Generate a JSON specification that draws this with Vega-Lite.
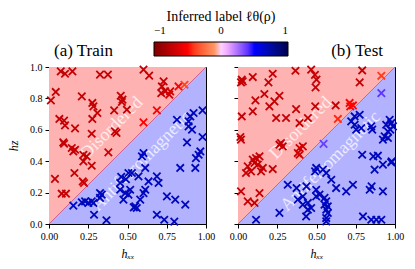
{
  "$schema": "https://vega.github.io/schema/vega-lite/v6.json",
  "padding": {"left": 7, "top": 10, "right": 5, "bottom": 5},
  "background": "white",
  "datasets": {
    "regions": [
      {"x": 0, "diag": 0, "lo": 0, "hi": 1},
      {"x": 1, "diag": 1, "lo": 0, "hi": 1}
    ],
    "labels": [
      {"x": 0.40, "y": 0.61, "t": "Disordered"},
      {"x": 0.59, "y": 0.40, "t": "Antiferromagnetic"}
    ],
    "train": [
      {"hxx": 0.075, "hz": 0.972, "label": -0.72},
      {"hxx": 0.102, "hz": 0.957, "label": -0.72},
      {"hxx": 0.149, "hz": 0.972, "label": -0.72},
      {"hxx": 0.325, "hz": 0.951, "label": -0.72},
      {"hxx": 0.375, "hz": 0.951, "label": -0.72},
      {"hxx": 0.043, "hz": 0.841, "label": -0.72},
      {"hxx": 0.012, "hz": 0.787, "label": -0.72},
      {"hxx": 0.209, "hz": 0.813, "label": -0.72},
      {"hxx": 0.276, "hz": 0.771, "label": -0.72},
      {"hxx": 0.283, "hz": 0.749, "label": -0.72},
      {"hxx": 0.308, "hz": 0.707, "label": -0.72},
      {"hxx": 0.276, "hz": 0.669, "label": -0.72},
      {"hxx": 0.457, "hz": 0.817, "label": -0.72},
      {"hxx": 0.468, "hz": 0.792, "label": -0.72},
      {"hxx": 0.464, "hz": 0.777, "label": -0.72},
      {"hxx": 0.415, "hz": 0.724, "label": -0.72},
      {"hxx": 0.496, "hz": 0.728, "label": -0.72},
      {"hxx": 0.066, "hz": 0.669, "label": -0.72},
      {"hxx": 0.096, "hz": 0.658, "label": -0.72},
      {"hxx": 0.102, "hz": 0.628, "label": -0.72},
      {"hxx": 0.166, "hz": 0.609, "label": -0.72},
      {"hxx": 0.272, "hz": 0.575, "label": -0.72},
      {"hxx": 0.42, "hz": 0.59, "label": -0.72},
      {"hxx": 0.43, "hz": 0.58, "label": -0.72},
      {"hxx": 0.091, "hz": 0.52, "label": -0.72},
      {"hxx": 0.602, "hz": 0.983, "label": -0.72},
      {"hxx": 0.638, "hz": 0.945, "label": -0.72},
      {"hxx": 0.73, "hz": 0.908, "label": -0.72},
      {"hxx": 0.719, "hz": 0.876, "label": -0.72},
      {"hxx": 0.74, "hz": 0.845, "label": -0.72},
      {"hxx": 0.772, "hz": 0.845, "label": -0.68},
      {"hxx": 0.715, "hz": 0.834, "label": -0.72},
      {"hxx": 0.766, "hz": 0.824, "label": -0.68},
      {"hxx": 0.825, "hz": 0.876, "label": -0.5},
      {"hxx": 0.863, "hz": 0.887, "label": -0.38},
      {"hxx": 0.687, "hz": 0.724, "label": -0.5},
      {"hxx": 0.602, "hz": 0.647, "label": -0.5},
      {"hxx": 0.096, "hz": 0.511, "label": -0.72},
      {"hxx": 0.145, "hz": 0.484, "label": -0.72},
      {"hxx": 0.166, "hz": 0.473, "label": -0.72},
      {"hxx": 0.155, "hz": 0.462, "label": -0.72},
      {"hxx": 0.219, "hz": 0.441, "label": -0.72},
      {"hxx": 0.24, "hz": 0.431, "label": -0.72},
      {"hxx": 0.219, "hz": 0.399, "label": -0.72},
      {"hxx": 0.272, "hz": 0.371, "label": -0.72},
      {"hxx": 0.378, "hz": 0.456, "label": -0.68},
      {"hxx": 0.038, "hz": 0.287, "label": -0.72},
      {"hxx": 0.162, "hz": 0.325, "label": -0.72},
      {"hxx": 0.215, "hz": 0.271, "label": -0.7},
      {"hxx": 0.223, "hz": 0.261, "label": -0.7},
      {"hxx": 0.081, "hz": 0.193, "label": -0.72},
      {"hxx": 0.108, "hz": 0.193, "label": -0.72},
      {"hxx": 0.978, "hz": 0.724, "label": 0.68},
      {"hxx": 0.921, "hz": 0.707, "label": 0.68},
      {"hxx": 0.90, "hz": 0.685, "label": 0.68},
      {"hxx": 0.889, "hz": 0.654, "label": 0.68},
      {"hxx": 0.911, "hz": 0.601, "label": 0.68},
      {"hxx": 0.889, "hz": 0.622, "label": 0.68},
      {"hxx": 0.815, "hz": 0.664, "label": 0.66},
      {"hxx": 0.978, "hz": 0.554, "label": 0.68},
      {"hxx": 0.879, "hz": 0.52, "label": 0.68},
      {"hxx": 0.964, "hz": 0.462, "label": 0.68},
      {"hxx": 0.953, "hz": 0.441, "label": 0.68},
      {"hxx": 0.936, "hz": 0.42, "label": 0.68},
      {"hxx": 0.836, "hz": 0.357, "label": 0.68},
      {"hxx": 0.932, "hz": 0.357, "label": 0.68},
      {"hxx": 0.602, "hz": 0.452, "label": 0.66},
      {"hxx": 0.592, "hz": 0.431, "label": 0.66},
      {"hxx": 0.613, "hz": 0.357, "label": 0.68},
      {"hxx": 0.528, "hz": 0.325, "label": 0.68},
      {"hxx": 0.57, "hz": 0.303, "label": 0.68},
      {"hxx": 0.634, "hz": 0.271, "label": 0.68},
      {"hxx": 0.687, "hz": 0.303, "label": 0.68},
      {"hxx": 0.698, "hz": 0.261, "label": 0.68},
      {"hxx": 0.613, "hz": 0.218, "label": 0.68},
      {"hxx": 0.602, "hz": 0.197, "label": 0.68},
      {"hxx": 0.517, "hz": 0.218, "label": 0.68},
      {"hxx": 0.506, "hz": 0.187, "label": 0.68},
      {"hxx": 0.581, "hz": 0.155, "label": 0.68},
      {"hxx": 0.549, "hz": 0.112, "label": 0.68},
      {"hxx": 0.559, "hz": 0.102, "label": 0.68},
      {"hxx": 0.54, "hz": 0.106, "label": 0.68},
      {"hxx": 0.751, "hz": 0.176, "label": 0.68},
      {"hxx": 0.804, "hz": 0.155, "label": 0.68},
      {"hxx": 0.868, "hz": 0.123, "label": 0.68},
      {"hxx": 0.687, "hz": 0.059, "label": 0.68},
      {"hxx": 0.734, "hz": 0.027, "label": 0.68},
      {"hxx": 0.798, "hz": 0.015, "label": 0.68},
      {"hxx": 0.155, "hz": 0.117, "label": 0.66},
      {"hxx": 0.209, "hz": 0.138, "label": 0.66},
      {"hxx": 0.23, "hz": 0.144, "label": 0.68},
      {"hxx": 0.251, "hz": 0.134, "label": 0.68},
      {"hxx": 0.283, "hz": 0.134, "label": 0.68},
      {"hxx": 0.272, "hz": 0.144, "label": 0.68},
      {"hxx": 0.325, "hz": 0.166, "label": 0.68},
      {"hxx": 0.336, "hz": 0.187, "label": 0.68},
      {"hxx": 0.325, "hz": 0.197, "label": 0.68},
      {"hxx": 0.287, "hz": 0.059, "label": 0.68},
      {"hxx": 0.366, "hz": 0.024, "label": 0.68},
      {"hxx": 0.453, "hz": 0.261, "label": 0.68},
      {"hxx": 0.453, "hz": 0.218, "label": 0.68},
      {"hxx": 0.485, "hz": 0.197, "label": 0.68},
      {"hxx": 0.474, "hz": 0.155, "label": 0.68},
      {"hxx": 0.506, "hz": 0.325, "label": 0.68},
      {"hxx": 0.46, "hz": 0.30, "label": 0.68},
      {"hxx": 0.49, "hz": 0.285, "label": 0.68}
    ],
    "test": [
      {"hxx": 0.024, "hz": 0.919, "label": -0.72},
      {"hxx": 0.019, "hz": 0.902, "label": -0.72},
      {"hxx": 0.03, "hz": 0.908, "label": -0.72},
      {"hxx": 0.094, "hz": 0.936, "label": -0.72},
      {"hxx": 0.221, "hz": 0.957, "label": -0.72},
      {"hxx": 0.194, "hz": 0.902, "label": -0.72},
      {"hxx": 0.366, "hz": 0.976, "label": -0.72},
      {"hxx": 0.466, "hz": 0.983, "label": -0.72},
      {"hxx": 0.49, "hz": 0.95, "label": -0.72},
      {"hxx": 0.50, "hz": 0.92, "label": -0.72},
      {"hxx": 0.494, "hz": 0.87, "label": -0.72},
      {"hxx": 0.168, "hz": 0.828, "label": -0.72},
      {"hxx": 0.111, "hz": 0.787, "label": -0.72},
      {"hxx": 0.264, "hz": 0.817, "label": -0.72},
      {"hxx": 0.232, "hz": 0.781, "label": -0.72},
      {"hxx": 0.2, "hz": 0.749, "label": -0.72},
      {"hxx": 0.094, "hz": 0.717, "label": -0.72},
      {"hxx": 0.024, "hz": 0.685, "label": -0.72},
      {"hxx": 0.243, "hz": 0.675, "label": -0.72},
      {"hxx": 0.306, "hz": 0.675, "label": -0.72},
      {"hxx": 0.37, "hz": 0.732, "label": -0.72},
      {"hxx": 0.392, "hz": 0.643, "label": -0.72},
      {"hxx": 0.445, "hz": 0.675, "label": -0.72},
      {"hxx": 0.492, "hz": 0.749, "label": -0.72},
      {"hxx": 0.015, "hz": 0.554, "label": -0.72},
      {"hxx": 0.019, "hz": 0.537, "label": -0.72},
      {"hxx": 0.274, "hz": 0.516, "label": -0.72},
      {"hxx": 0.264, "hz": 0.505, "label": -0.72},
      {"hxx": 0.285, "hz": 0.494, "label": -0.72},
      {"hxx": 0.392, "hz": 0.484, "label": -0.68},
      {"hxx": 0.413, "hz": 0.494, "label": -0.68},
      {"hxx": 0.381, "hz": 0.452, "label": -0.68},
      {"hxx": 0.392, "hz": 0.441, "label": -0.68},
      {"hxx": 0.137, "hz": 0.431, "label": -0.72},
      {"hxx": 0.115, "hz": 0.42, "label": -0.72},
      {"hxx": 0.094, "hz": 0.41, "label": -0.72},
      {"hxx": 0.105, "hz": 0.389, "label": -0.72},
      {"hxx": 0.062, "hz": 0.367, "label": -0.72},
      {"hxx": 0.126, "hz": 0.378, "label": -0.72},
      {"hxx": 0.158, "hz": 0.357, "label": -0.72},
      {"hxx": 0.083, "hz": 0.335, "label": -0.72},
      {"hxx": 0.147, "hz": 0.335, "label": -0.72},
      {"hxx": 0.051, "hz": 0.325, "label": -0.72},
      {"hxx": 0.221, "hz": 0.35, "label": -0.72},
      {"hxx": 0.019, "hz": 0.208, "label": -0.72},
      {"hxx": 0.137, "hz": 0.197, "label": -0.72},
      {"hxx": 0.062, "hz": 0.144, "label": -0.72},
      {"hxx": 0.105, "hz": 0.134, "label": -0.72},
      {"hxx": 0.791, "hz": 0.978, "label": -0.72},
      {"hxx": 0.775, "hz": 0.902, "label": -0.72},
      {"hxx": 0.913, "hz": 0.944, "label": -0.4},
      {"hxx": 0.622, "hz": 0.755, "label": -0.72},
      {"hxx": 0.711, "hz": 0.771, "label": -0.5},
      {"hxx": 0.732, "hz": 0.755, "label": -0.5},
      {"hxx": 0.715, "hz": 0.749, "label": -0.5},
      {"hxx": 0.636, "hz": 0.669, "label": -0.45},
      {"hxx": 0.317, "hz": 0.25, "label": 0.68},
      {"hxx": 0.115, "hz": 0.027, "label": 0.68},
      {"hxx": 0.264, "hz": 0.071, "label": 0.68},
      {"hxx": 0.381, "hz": 0.155, "label": 0.68},
      {"hxx": 0.413, "hz": 0.123, "label": 0.68},
      {"hxx": 0.445, "hz": 0.134, "label": 0.68},
      {"hxx": 0.445, "hz": 0.091, "label": 0.68},
      {"hxx": 0.434, "hz": 0.048, "label": 0.68},
      {"hxx": 0.466, "hz": 0.102, "label": 0.68},
      {"hxx": 0.413, "hz": 0.176, "label": 0.68},
      {"hxx": 0.491, "hz": 0.335, "label": 0.68},
      {"hxx": 0.498, "hz": 0.218, "label": 0.68},
      {"hxx": 0.545, "hz": 0.51, "label": 0.38},
      {"hxx": 0.791, "hz": 0.441, "label": 0.68},
      {"hxx": 0.891, "hz": 0.435, "label": 0.68},
      {"hxx": 0.87, "hz": 0.346, "label": 0.68},
      {"hxx": 0.923, "hz": 0.378, "label": 0.68},
      {"hxx": 0.976, "hz": 0.392, "label": 0.68},
      {"hxx": 0.498, "hz": 0.357, "label": 0.68},
      {"hxx": 0.541, "hz": 0.346, "label": 0.68},
      {"hxx": 0.562, "hz": 0.325, "label": 0.68},
      {"hxx": 0.594, "hz": 0.282, "label": 0.68},
      {"hxx": 0.625, "hz": 0.229, "label": 0.68},
      {"hxx": 0.689, "hz": 0.208, "label": 0.68},
      {"hxx": 0.732, "hz": 0.25, "label": 0.68},
      {"hxx": 0.839, "hz": 0.218, "label": 0.68},
      {"hxx": 0.923, "hz": 0.208, "label": 0.68},
      {"hxx": 0.498, "hz": 0.176, "label": 0.68},
      {"hxx": 0.519, "hz": 0.187, "label": 0.68},
      {"hxx": 0.551, "hz": 0.166, "label": 0.68},
      {"hxx": 0.562, "hz": 0.144, "label": 0.68},
      {"hxx": 0.551, "hz": 0.123, "label": 0.68},
      {"hxx": 0.572, "hz": 0.112, "label": 0.68},
      {"hxx": 0.562, "hz": 0.091, "label": 0.68},
      {"hxx": 0.572, "hz": 0.07, "label": 0.68},
      {"hxx": 0.562, "hz": 0.038, "label": 0.68},
      {"hxx": 0.562, "hz": 0.017, "label": 0.68},
      {"hxx": 0.796, "hz": 0.048, "label": 0.68},
      {"hxx": 0.849, "hz": 0.027, "label": 0.68},
      {"hxx": 0.881, "hz": 0.027, "label": 0.68},
      {"hxx": 0.913, "hz": 0.027, "label": 0.68},
      {"hxx": 0.913, "hz": 0.834, "label": 0.4},
      {"hxx": 0.775, "hz": 0.696, "label": 0.68},
      {"hxx": 0.743, "hz": 0.685, "label": 0.68},
      {"hxx": 0.721, "hz": 0.654, "label": 0.68},
      {"hxx": 0.743, "hz": 0.632, "label": 0.68},
      {"hxx": 0.753, "hz": 0.601, "label": 0.68},
      {"hxx": 0.785, "hz": 0.611, "label": 0.68},
      {"hxx": 0.855, "hz": 0.601, "label": 0.68},
      {"hxx": 0.849, "hz": 0.622, "label": 0.68},
      {"hxx": 0.966, "hz": 0.664, "label": 0.68},
      {"hxx": 0.976, "hz": 0.643, "label": 0.68},
      {"hxx": 0.944, "hz": 0.632, "label": 0.68},
      {"hxx": 0.987, "hz": 0.622, "label": 0.68},
      {"hxx": 0.955, "hz": 0.589, "label": 0.68},
      {"hxx": 0.97, "hz": 0.601, "label": 0.68},
      {"hxx": 0.934, "hz": 0.558, "label": 0.68},
      {"hxx": 0.955, "hz": 0.548, "label": 0.68},
      {"hxx": 0.923, "hz": 0.537, "label": 0.68},
      {"hxx": 0.851, "hz": 0.24, "label": 0.68},
      {"hxx": 0.373, "hz": 0.229, "label": 0.68},
      {"hxx": 0.436, "hz": 0.24, "label": 0.68},
      {"hxx": 0.862, "hz": 0.431, "label": 0.68},
      {"hxx": 0.979, "hz": 0.399, "label": 0.68}
    ]
  },
  "hconcat": [
    {
      "width": 157,
      "height": 157,
      "title": {"text": "(a) Train", "anchor": "start", "frame": "group", "dx": 5},
      "layer": [
        {
          "data": {"name": "regions"},
          "mark": {"type": "area", "color": "#ffb2b2", "opacity": 1},
          "encoding": {
            "x": {"field": "x", "type": "quantitative", "scale": {"domain": [0, 1], "nice": false}, "axis": {"title": "hₓₓ", "values": [0, 0.25, 0.5, 0.75, 1], "tickCount": 10, "format": ".2f", "labelOverlap": false}},
            "y": {"field": "diag", "type": "quantitative", "scale": {"domain": [0, 1], "nice": false}, "axis": {"title": "hz", "values": [0, 0.2, 0.4, 0.6, 0.8, 1], "tickCount": 10, "format": ".1f", "labelOverlap": false}},
            "y2": {"field": "hi"}
          }
        },
        {
          "data": {"name": "regions"},
          "mark": {"type": "area", "color": "#b2b2ff", "opacity": 1},
          "encoding": {
            "x": {"field": "x", "type": "quantitative"},
            "y": {"field": "lo", "type": "quantitative"},
            "y2": {"field": "diag"}
          }
        },
        {
          "data": {"name": "regions"},
          "mark": {"type": "line", "color": "#cc6699", "strokeWidth": 1},
          "encoding": {
            "x": {"field": "x", "type": "quantitative"},
            "y": {"field": "diag", "type": "quantitative"}
          }
        },
        {
          "data": {"name": "labels"},
          "mark": {"type": "text", "color": "white", "opacity": 0.75, "angle": 315, "font": "Liberation Serif", "fontSize": 18},
          "encoding": {
            "x": {"field": "x", "type": "quantitative"},
            "y": {"field": "y", "type": "quantitative"},
            "text": {"field": "t"}
          }
        },
        {
          "data": {"name": "train"},
          "mark": {"type": "point", "shape": "M-1,-1L1,1M1,-1L-1,1", "filled": false, "strokeWidth": 1.8, "size": 55, "opacity": 1},
          "encoding": {
            "x": {"field": "hxx", "type": "quantitative"},
            "y": {"field": "hz", "type": "quantitative"},
            "color": {"field": "label", "type": "quantitative",
              "scale": {"domain": [-1, 1], "range": ["#800000", "#ff0000", "#ffffff", "#0000ff", "#00004d"]},
              "legend": {"title": "Inferred label ℓθ(ρ)", "values": [-1, 0, 1], "labelOffset": -31,
                "encode": {"labels": {"update": {"align": {"value": "center"}}}}}}
          }
        }
      ]
    },
    {
      "width": 157,
      "height": 157,
      "title": {"text": "(b) Test", "anchor": "end", "frame": "group", "dx": -12},
      "layer": [
        {
          "data": {"name": "regions"},
          "mark": {"type": "area", "color": "#ffb2b2", "opacity": 1},
          "encoding": {
            "x": {"field": "x", "type": "quantitative", "scale": {"domain": [0, 1], "nice": false}, "axis": {"title": "hₓₓ", "values": [0, 0.25, 0.5, 0.75, 1], "tickCount": 10, "format": ".2f", "labelOverlap": false}},
            "y": {"field": "diag", "type": "quantitative", "scale": {"domain": [0, 1], "nice": false}, "axis": {"title": null, "labels": false, "values": [0, 0.2, 0.4, 0.6, 0.8, 1], "tickCount": 10}},
            "y2": {"field": "hi"}
          }
        },
        {
          "data": {"name": "regions"},
          "mark": {"type": "area", "color": "#b2b2ff", "opacity": 1},
          "encoding": {
            "x": {"field": "x", "type": "quantitative"},
            "y": {"field": "lo", "type": "quantitative"},
            "y2": {"field": "diag"}
          }
        },
        {
          "data": {"name": "regions"},
          "mark": {"type": "line", "color": "#cc6699", "strokeWidth": 1},
          "encoding": {
            "x": {"field": "x", "type": "quantitative"},
            "y": {"field": "diag", "type": "quantitative"}
          }
        },
        {
          "data": {"name": "labels"},
          "mark": {"type": "text", "color": "white", "opacity": 0.75, "angle": 315, "font": "Liberation Serif", "fontSize": 18},
          "encoding": {
            "x": {"field": "x", "type": "quantitative"},
            "y": {"field": "y", "type": "quantitative"},
            "text": {"field": "t"}
          }
        },
        {
          "data": {"name": "test"},
          "mark": {"type": "point", "shape": "M-1,-1L1,1M1,-1L-1,1", "filled": false, "strokeWidth": 1.8, "size": 55, "opacity": 1},
          "encoding": {
            "x": {"field": "hxx", "type": "quantitative"},
            "y": {"field": "hz", "type": "quantitative"},
            "color": {"field": "label", "type": "quantitative",
              "scale": {"domain": [-1, 1], "range": ["#800000", "#ff0000", "#ffffff", "#0000ff", "#00004d"]},
              "legend": {"title": "Inferred label ℓθ(ρ)", "values": [-1, 0, 1], "labelOffset": -31,
                "encode": {"labels": {"update": {"align": {"value": "center"}}}}}}
          }
        }
      ]
    }
  ],
  "spacing": 32,
  "bounds": "flush",
  "config": {
    "font": "Liberation Serif",
    "view": {"stroke": "black", "strokeWidth": 1},
    "title": {"font": "Liberation Serif", "fontSize": 17, "fontWeight": "normal", "offset": 2, "color": "black"},
    "axis": {
      "grid": false,
      "domainColor": "black",
      "tickColor": "black",
      "tickSize": 4,
      "labelFont": "Liberation Serif",
      "labelFontSize": 10,
      "labelColor": "black",
      "labelFlush": false,
      "titleFont": "Liberation Serif",
      "titleFontSize": 12,
      "titleFontWeight": "normal",
      "titleFontStyle": "italic",
      "titleColor": "black",
      "labelPadding": 3
    },
    "axisX": {"titlePadding": 7},
    "axisY": {"titlePadding": 9},
    "legend": {
      "orient": "none",
      "legendX": 105,
      "legendY": -57,
      "direction": "horizontal",
      "gradientLength": 134,
      "gradientThickness": 14,
      "gradientStrokeColor": "black",
      "gradientStrokeWidth": 1,
      "titleFont": "Liberation Serif",
      "titleFontSize": 14,
      "titleFontWeight": "normal",
      "titleColor": "black",
      "titleAnchor": "middle",
      "titlePadding": 18,
      "labelFont": "Liberation Serif",
      "labelFontSize": 11,
      "labelColor": "black"
    }
  }
}
